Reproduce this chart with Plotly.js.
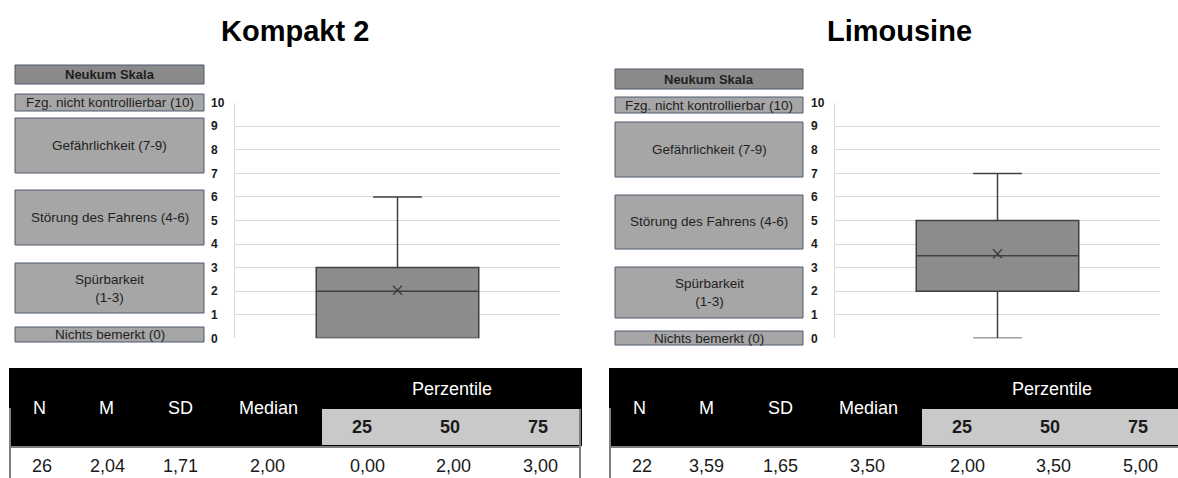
<!DOCTYPE html>
<html>
<head>
<meta charset="utf-8">
<script src="https://cdn.plot.ly/plotly-3.0.1.min.js"></script>
<style>
  html, body { margin: 0; padding: 0; background: #ffffff; }
  #chart { width: 1178px; height: 478px; }
</style>
</head>
<body>
<div id="chart"></div>
<script>
// Ratings on the Neukum scale for two vehicle classes
const panelTitles = ['Kompakt 2', 'Limousine'];
const nVals = [26, 22];
const meanVals = [2.04, 3.59];
const sdVals = [1.71, 1.65];
const lowerFence = [0, 0];
const q1Vals = [0, 2];
const medianVals = [2, 3.5];
const q3Vals = [3, 5];
const upperFence = [6, 7];

const yTicks = [0, 1, 2, 3, 4, 5, 6, 7, 8, 9, 10];
const scaleLabels = ['Neukum Skala', 'Fzg. nicht kontrollierbar (10)', 'Gefährlichkeit (7-9)',
  'Störung des Fahrens (4-6)', 'Spürbarkeit<br>(1-3)', 'Nichts bemerkt (0)'];
const statHeaders = ['N', 'M', 'SD', 'Median'];
const pctHeaders = ['25', '50', '75'];
const pctGroupLabel = 'Perzentile';

// ---- page geometry (pixels) ----
const W = 1178, H = 478;
const px = v => v / W;
const py = v => 1 - v / H;
const FONT = 'Liberation Sans, Arial, sans-serif';

const panelOffset = [0, 600];
const plotX = [235, 560];          // plot area in the left panel
const plotY = [102.7, 338.3];      // y of value 10 and value 0
const tickLabelX = 210;
const titleX = [295, 899];
const scaleBoxX = [[15, 204], [615, 803]];
const scaleBoxY = [
  [[65, 84], [94, 111], [118, 173], [190, 245], [263, 313], [327, 342]],
  [[69, 89], [97, 113], [122, 177], [195, 249], [267, 318], [331, 345]]
];
const statColX = [39, 106, 180, 268];
const pctColX = [362, 450, 538];
const valueColX = [42, 107, 180, 267, 367, 453, 540];

const fmt = v => v.toFixed(2).replace('.', ',');

const data = [];
const shapes = [];
const annotations = [];
const layout = {
  width: W, height: H,
  margin: { l: 0, r: 0, t: 0, b: 0 },
  paper_bgcolor: '#ffffff',
  plot_bgcolor: 'rgba(0,0,0,0)',
  showlegend: false,
  font: { family: FONT, color: '#1a1a1a' }
};

panelTitles.forEach((title, i) => {
  const off = panelOffset[i];
  const xa = i === 0 ? 'x' : 'x2';
  const ya = i === 0 ? 'y' : 'y2';
  const yl = i === 0 ? 'y3' : 'y4';
  const xKey = i === 0 ? 'xaxis' : 'xaxis2';
  const yKey = i === 0 ? 'yaxis' : 'yaxis2';
  const ylKey = i === 0 ? 'yaxis3' : 'yaxis4';

  const yDomain = [py(plotY[1]), py(plotY[0])];

  layout[xKey] = {
    domain: [px(plotX[0] + off), px(plotX[1] + off)],
    range: [-1, 1], anchor: ya,
    showgrid: false, zeroline: false, showline: false,
    showticklabels: false, ticks: '', fixedrange: true
  };
  layout[yKey] = {
    domain: yDomain, range: [0, 10], anchor: xa,
    tickvals: yTicks, showticklabels: false, ticks: '',
    showgrid: true, gridcolor: '#d9d9d9', gridwidth: 1,
    showline: true, linecolor: '#d9d9d9', linewidth: 1,
    zeroline: false, fixedrange: true
  };
  // free axis carrying the left-aligned tick labels
  layout[ylKey] = {
    overlaying: ya, anchor: 'free', position: px(tickLabelX + off), side: 'right',
    range: [0, 10], tickvals: yTicks, ticktext: yTicks.map(t => '<b>' + t + '</b>'),
    tickfont: { family: FONT, size: 12, color: '#1a1a1a' },
    ticks: '', showgrid: false, zeroline: false, showline: false, fixedrange: true
  };

  data.push({
    type: 'box', x: [0],
    q1: [q1Vals[i]], median: [medianVals[i]], q3: [q3Vals[i]],
    lowerfence: [lowerFence[i]], upperfence: [upperFence[i]],
    width: 1, whiskerwidth: 0.3, boxpoints: false,
    fillcolor: '#8c8c8c', line: { color: '#404040', width: 1.5 },
    xaxis: xa, yaxis: ya, hoverinfo: 'skip'
  });
  data.push({
    type: 'scatter', mode: 'markers', x: [0], y: [meanVals[i]],
    marker: { symbol: 'x-thin-open', size: 9, color: '#404040', line: { width: 1.5, color: '#404040' } },
    xaxis: xa, yaxis: ya, hoverinfo: 'skip'
  });
  data.push({ type: 'scatter', mode: 'markers', x: [0], y: [0], marker: { opacity: 0 },
    xaxis: xa, yaxis: yl, hoverinfo: 'skip' });

  // panel title
  annotations.push({
    xref: 'paper', yref: 'paper', x: px(titleX[i]), y: py(31),
    xanchor: 'center', yanchor: 'middle', showarrow: false,
    text: '<b>' + title + '</b>', font: { family: FONT, size: 29, color: '#000000' }
  });

  // Neukum scale boxes
  scaleLabels.forEach((lab, k) => {
    const [y0, y1] = scaleBoxY[i][k];
    const [x0, x1] = scaleBoxX[i];
    shapes.push({
      type: 'rect', xref: 'paper', yref: 'paper',
      x0: px(x0), x1: px(x1), y0: py(y1), y1: py(y0),
      fillcolor: k === 0 ? '#8a8a8a' : '#a6a6a6',
      line: { color: '#4f5a6e', width: 1 }
    });
    annotations.push({
      xref: 'paper', yref: 'paper', x: px((x0 + x1) / 2), y: py((y0 + y1) / 2),
      xanchor: 'center', yanchor: 'middle', showarrow: false,
      text: k === 0 ? '<b>' + lab + '</b>' : lab,
      font: { family: FONT, size: k === 0 ? 13 : 13.5, color: '#1f1f1f' }
    });
  });

  // statistics table
  shapes.push({ type: 'rect', xref: 'paper', yref: 'paper', layer: 'below',
    x0: px(9 + off), x1: px(Math.min(582 + off, W + 2)), y0: py(446), y1: py(368),
    fillcolor: '#000000', line: { width: 0 } });
  shapes.push({ type: 'rect', xref: 'paper', yref: 'paper', layer: 'below',
    x0: px(322 + off), x1: px(Math.min(580 + off, W + 2)), y0: py(445), y1: py(409),
    fillcolor: '#c9c9c9', line: { width: 0 } });
  shapes.push({ type: 'line', xref: 'paper', yref: 'paper',
    x0: px(10 + off), x1: px(Math.min(580 + off, W + 2)), y0: py(447), y1: py(447),
    line: { color: '#7f7f7f', width: 2 } });
  shapes.push({ type: 'line', xref: 'paper', yref: 'paper',
    x0: px(10 + off), x1: px(10 + off), y0: py(408), y1: py(480),
    line: { color: '#7f7f7f', width: 2 } });
  if (580 + off < W) {
    shapes.push({ type: 'line', xref: 'paper', yref: 'paper',
      x0: px(580 + off), x1: px(580 + off), y0: py(409), y1: py(480),
      line: { color: '#7f7f7f', width: 2 } });
  }

  statHeaders.forEach((h, k) => annotations.push({
    xref: 'paper', yref: 'paper', x: px(statColX[k] + off), y: py(408),
    xanchor: 'center', yanchor: 'middle', showarrow: false,
    text: h, font: { family: FONT, size: 18, color: '#ffffff' }
  }));
  annotations.push({
    xref: 'paper', yref: 'paper', x: px(452 + off), y: py(389),
    xanchor: 'center', yanchor: 'middle', showarrow: false,
    text: pctGroupLabel, font: { family: FONT, size: 18, color: '#ffffff' }
  });
  pctHeaders.forEach((h, k) => annotations.push({
    xref: 'paper', yref: 'paper', x: px(pctColX[k] + off), y: py(427),
    xanchor: 'center', yanchor: 'middle', showarrow: false,
    text: '<b>' + h + '</b>', font: { family: FONT, size: 18, color: '#1a1a1a' }
  }));

  const rowVals = [String(nVals[i]), fmt(meanVals[i]), fmt(sdVals[i]), fmt(medianVals[i]),
    fmt(q1Vals[i]), fmt(medianVals[i]), fmt(q3Vals[i])];
  rowVals.forEach((v, k) => annotations.push({
    xref: 'paper', yref: 'paper', x: px(valueColX[k] + off), y: py(466),
    xanchor: 'center', yanchor: 'middle', showarrow: false,
    text: v, font: { family: FONT, size: 18, color: '#1a1a1a' }
  }));
});

layout.shapes = shapes;
layout.annotations = annotations;

Plotly.newPlot('chart', data, layout, { staticPlot: true, displayModeBar: false });
</script>
</body>
</html>
